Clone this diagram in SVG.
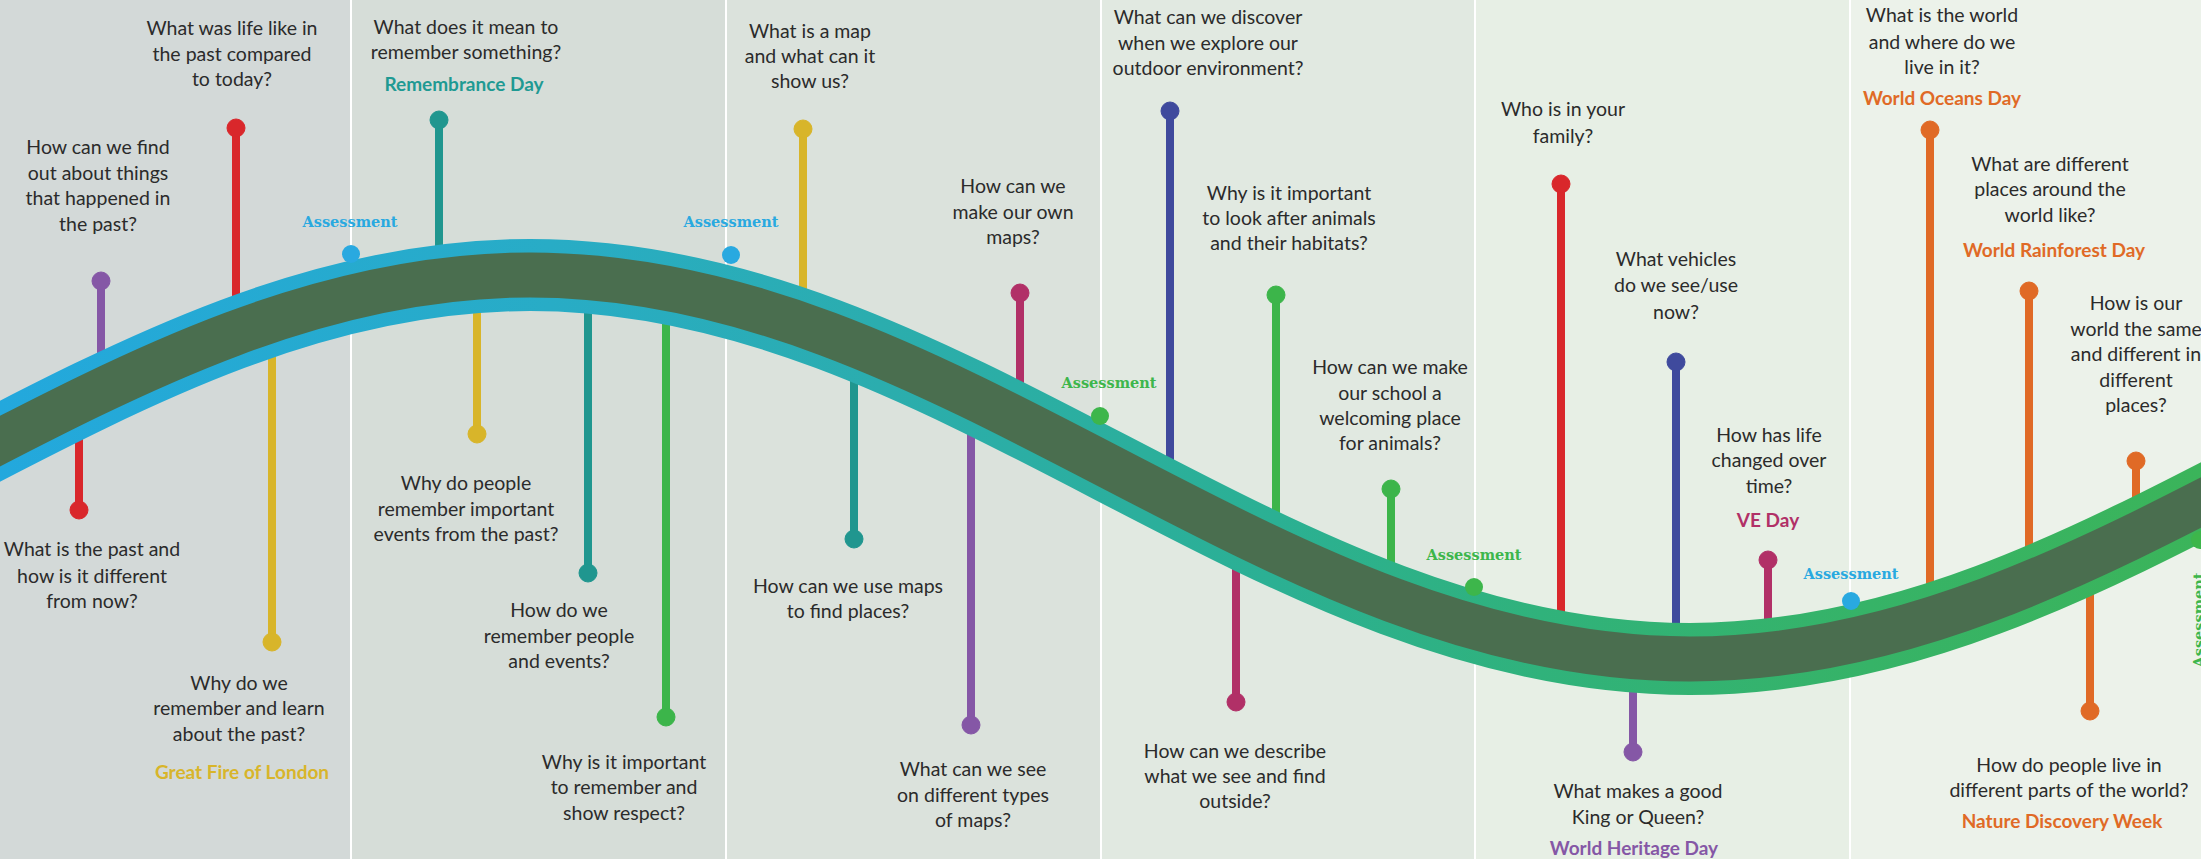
<svg xmlns="http://www.w3.org/2000/svg" width="2201" height="859" viewBox="0 0 2201 859">
<style>
.q{font-family:Lato,"Noto Sans","Liberation Sans",sans-serif;font-size:19.5px;fill:#2b2b2b;text-anchor:middle}
.ev{font-family:Lato,"Noto Sans","Liberation Sans",sans-serif;font-size:19px;font-weight:bold;text-anchor:middle}
.as{font-family:"DejaVu Serif","Liberation Serif",serif;font-size:15px;font-weight:bold;text-anchor:middle}
.stem{stroke-width:8;fill:none}
.purple{stroke:#8557a6;fill:#8557a6}
.red{stroke:#d9272b;fill:#d9272b}
.yellow{stroke:#d8b52a;fill:#d8b52a}
.teal{stroke:#20968f;fill:#20968f}
.green{stroke:#3cb54a;fill:#3cb54a}
.magenta{stroke:#b13067;fill:#b13067}
.indigo{stroke:#3f4a9d;fill:#3f4a9d}
.orange{stroke:#e06a26;fill:#e06a26}
.ablue{fill:#29a9e0}
.agreen{fill:#3db64b}
.div{stroke:#ffffff;stroke-width:2}
</style>
<defs>
<linearGradient id="edge" gradientUnits="userSpaceOnUse" x1="0" y1="0" x2="2201" y2="0">
<stop offset="0" stop-color="#23a8dd"/>
<stop offset="0.25" stop-color="#28acc6"/>
<stop offset="0.4" stop-color="#2badae"/>
<stop offset="0.58" stop-color="#2bb093"/>
<stop offset="0.7" stop-color="#30b27b"/>
<stop offset="0.85" stop-color="#36b367"/>
<stop offset="1" stop-color="#3bb45a"/>
</linearGradient>
</defs>
<g id="background">
<rect x="0" y="0" width="351" height="859" fill="#d3d9d8"/>
<rect x="351" y="0" width="375" height="859" fill="#d6ddd8"/>
<rect x="726" y="0" width="375" height="859" fill="#dbe2dc"/>
<rect x="1101" y="0" width="374" height="859" fill="#e1e9e1"/>
<rect x="1475" y="0" width="375" height="859" fill="#e7efe5"/>
<rect x="1850" y="0" width="351" height="859" fill="#ecf2ea"/>
<line class="div" x1="351" y1="0" x2="351" y2="859"/>
<line class="div" x1="726" y1="0" x2="726" y2="859"/>
<line class="div" x1="1101" y1="0" x2="1101" y2="859"/>
<line class="div" x1="1475" y1="0" x2="1475" y2="859"/>
<line class="div" x1="1850" y1="0" x2="1850" y2="859"/>
</g>
<g id="n1"><line class="stem purple" x1="101" y1="281" x2="101" y2="391"/><circle class="purple" cx="101" cy="281" r="9"/>
<text class="q" x="98" y="154">How can we find</text><text class="q" x="98" y="180">out about things</text><text class="q" x="98" y="205">that happened in</text><text class="q" x="98" y="231">the past?</text></g>
<g id="n2"><line class="stem red" x1="236" y1="128" x2="236" y2="332"/><circle class="red" cx="236" cy="128" r="9"/>
<text class="q" x="232" y="35">What was life like in</text><text class="q" x="232" y="61">the past compared</text><text class="q" x="232" y="86">to today?</text></g>
<g id="n3"><line class="stem red" x1="79" y1="401" x2="79" y2="510"/><circle class="red" cx="79" cy="510" r="9"/>
<text class="q" x="92" y="556">What is the past and</text><text class="q" x="92" y="583">how is it different</text><text class="q" x="92" y="608">from now?</text></g>
<g id="n4"><line class="stem yellow" x1="272" y1="322" x2="272" y2="642"/><circle class="yellow" cx="272" cy="642" r="9"/>
<text class="q" x="239" y="690">Why do we</text><text class="q" x="239" y="715">remember and learn</text><text class="q" x="239" y="741">about the past?</text>
<text class="ev" x="242" y="779" fill="#d8b52a">Great Fire of London</text></g>
<g id="n5"><line class="stem teal" x1="439" y1="120" x2="439" y2="285"/><circle class="teal" cx="439" cy="120" r="9"/>
<text class="q" x="466" y="34">What does it mean to</text><text class="q" x="466" y="59">remember something?</text>
<text class="ev" x="464" y="91" fill="#1f9a93">Remembrance Day</text></g>
<g id="n6"><line class="stem yellow" x1="477" y1="278" x2="477" y2="434"/><circle class="yellow" cx="477" cy="434" r="9"/>
<text class="q" x="466" y="490">Why do people</text><text class="q" x="466" y="516">remember important</text><text class="q" x="466" y="541">events from the past?</text></g>
<g id="n7"><line class="stem teal" x1="588" y1="278" x2="588" y2="573"/><circle class="teal" cx="588" cy="573" r="9"/>
<text class="q" x="559" y="617">How do we</text><text class="q" x="559" y="643">remember people</text><text class="q" x="559" y="668">and events?</text></g>
<g id="n8"><line class="stem green" x1="666" y1="288" x2="666" y2="717"/><circle class="green" cx="666" cy="717" r="9"/>
<text class="q" x="624" y="769">Why is it important</text><text class="q" x="624" y="794">to remember and</text><text class="q" x="624" y="820">show respect?</text></g>
<g id="n9"><line class="stem yellow" x1="803" y1="129" x2="803" y2="330"/><circle class="yellow" cx="803" cy="129" r="9"/>
<text class="q" x="810" y="38">What is a map</text><text class="q" x="810" y="63">and what can it</text><text class="q" x="810" y="88">show us?</text></g>
<g id="n10"><line class="stem teal" x1="854" y1="340" x2="854" y2="539"/><circle class="teal" cx="854" cy="539" r="9"/>
<text class="q" x="848" y="593">How can we use maps</text><text class="q" x="848" y="618">to find places?</text></g>
<g id="n11"><line class="stem magenta" x1="1020" y1="293" x2="1020" y2="452"/><circle class="magenta" cx="1020" cy="293" r="9"/>
<text class="q" x="1013" y="193">How can we</text><text class="q" x="1013" y="219">make our own</text><text class="q" x="1013" y="244">maps?</text></g>
<g id="n12"><line class="stem purple" x1="971" y1="390" x2="971" y2="725"/><circle class="purple" cx="971" cy="725" r="9"/>
<text class="q" x="973" y="776">What can we see</text><text class="q" x="973" y="802">on different types</text><text class="q" x="973" y="827">of maps?</text></g>
<g id="n13"><line class="stem indigo" x1="1170" y1="111" x2="1170" y2="495"/><circle class="indigo" cx="1170" cy="111" r="9"/>
<text class="q" x="1208" y="24">What can we discover</text><text class="q" x="1208" y="50">when we explore our</text><text class="q" x="1208" y="75">outdoor environment?</text></g>
<g id="n14"><line class="stem magenta" x1="1236" y1="525" x2="1236" y2="702"/><circle class="magenta" cx="1236" cy="702" r="9"/>
<text class="q" x="1235" y="758">How can we describe</text><text class="q" x="1235" y="783">what we see and find</text><text class="q" x="1235" y="808">outside?</text></g>
<g id="n15"><line class="stem green" x1="1276" y1="295" x2="1276" y2="545"/><circle class="green" cx="1276" cy="295" r="9"/>
<text class="q" x="1289" y="200">Why is it important</text><text class="q" x="1289" y="225">to look after animals</text><text class="q" x="1289" y="250">and their habitats?</text></g>
<g id="n16"><line class="stem green" x1="1391" y1="489" x2="1391" y2="600"/><circle class="green" cx="1391" cy="489" r="9"/>
<text class="q" x="1390" y="374">How can we make</text><text class="q" x="1390" y="400">our school a</text><text class="q" x="1390" y="425">welcoming place</text><text class="q" x="1390" y="450">for animals?</text></g>
<g id="n17"><line class="stem red" x1="1561" y1="184" x2="1561" y2="647"/><circle class="red" cx="1561" cy="184" r="9"/>
<text class="q" x="1563" y="116">Who is in your</text><text class="q" x="1563" y="143">family?</text></g>
<g id="n18"><line class="stem indigo" x1="1676" y1="362" x2="1676" y2="655"/><circle class="indigo" cx="1676" cy="362" r="9"/>
<text class="q" x="1676" y="266">What vehicles</text><text class="q" x="1676" y="292">do we see/use</text><text class="q" x="1676" y="319">now?</text></g>
<g id="n19"><line class="stem purple" x1="1633" y1="655" x2="1633" y2="752"/><circle class="purple" cx="1633" cy="752" r="9"/>
<text class="q" x="1638" y="798">What makes a good</text><text class="q" x="1638" y="824">King or Queen?</text>
<text class="ev" x="1634" y="855" fill="#8557a6">World Heritage Day</text></g>
<g id="n20"><line class="stem magenta" x1="1768" y1="560" x2="1768" y2="650"/><circle class="magenta" cx="1768" cy="560" r="9"/>
<text class="q" x="1769" y="442">How has life</text><text class="q" x="1769" y="467">changed over</text><text class="q" x="1769" y="493">time?</text>
<text class="ev" x="1768" y="527" fill="#b13067">VE Day</text></g>
<g id="n21"><line class="stem orange" x1="1930" y1="130" x2="1930" y2="620"/><circle class="orange" cx="1930" cy="130" r="9"/>
<text class="q" x="1942" y="22">What is the world</text><text class="q" x="1942" y="49">and where do we</text><text class="q" x="1942" y="74">live in it?</text>
<text class="ev" x="1942" y="105" fill="#e06a26">World Oceans Day</text></g>
<g id="n22"><line class="stem orange" x1="2029" y1="291" x2="2029" y2="585"/><circle class="orange" cx="2029" cy="291" r="9"/>
<text class="q" x="2050" y="171">What are different</text><text class="q" x="2050" y="196">places around the</text><text class="q" x="2050" y="222">world like?</text>
<text class="ev" x="2054" y="257" fill="#e06a26">World Rainforest Day</text></g>
<g id="n23"><line class="stem orange" x1="2136" y1="461" x2="2136" y2="537"/><circle class="orange" cx="2136" cy="461" r="9"/>
<text class="q" x="2136" y="310">How is our</text><text class="q" x="2136" y="336">world the same</text><text class="q" x="2136" y="361">and different in</text><text class="q" x="2136" y="387">different</text><text class="q" x="2136" y="412">places?</text></g>
<g id="n24"><line class="stem orange" x1="2090" y1="555" x2="2090" y2="711"/><circle class="orange" cx="2090" cy="711" r="9"/>
<text class="q" x="2069" y="772">How do people live in</text><text class="q" x="2069" y="797">different parts of the world?</text>
<text class="ev" x="2062" y="828" fill="#e06a26">Nature Discovery Week</text></g>
<g id="connectors">
<path d="M-50,467 C139.1,368.6 320.1,275 530,275 C739.9,275 920.9,368.6 1110,467 C1299.1,565.4 1480.1,659 1690,659 C1899.9,659 2080.9,565.4 2270,467" fill="none" stroke="url(#edge)" stroke-width="72"/>
<path d="M-50,467 C139.1,368.6 320.1,275 530,275 C739.9,275 920.9,368.6 1110,467 C1299.1,565.4 1480.1,659 1690,659 C1899.9,659 2080.9,565.4 2270,467" fill="none" stroke="#4a6e4f" stroke-width="45"/>
</g>
<g id="a1"><circle class="ablue" cx="351" cy="254" r="9"/><text class="as ablue" x="350" y="227" textLength="95" lengthAdjust="spacingAndGlyphs">Assessment</text></g>
<g id="a2"><circle class="ablue" cx="731" cy="255" r="9"/><text class="as ablue" x="731" y="227" textLength="95" lengthAdjust="spacingAndGlyphs">Assessment</text></g>
<g id="a3"><circle class="agreen" cx="1100" cy="416" r="9"/><text class="as agreen" x="1109" y="388" textLength="95" lengthAdjust="spacingAndGlyphs">Assessment</text></g>
<g id="a4"><circle class="agreen" cx="1474" cy="587" r="9"/><text class="as agreen" x="1474" y="560" textLength="95" lengthAdjust="spacingAndGlyphs">Assessment</text></g>
<g id="a5"><circle class="ablue" cx="1851" cy="601" r="9"/><text class="as ablue" x="1851" y="579" textLength="95" lengthAdjust="spacingAndGlyphs">Assessment</text></g>
<g id="a6"><circle class="agreen" cx="2200" cy="540" r="9"/><text class="as agreen" transform="translate(2204,620) rotate(-90)" x="0" y="0" textLength="95" lengthAdjust="spacingAndGlyphs">Assessment</text></g>
</svg>
